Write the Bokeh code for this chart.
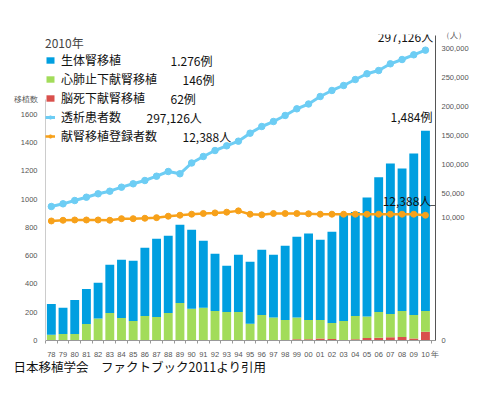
from bokeh.plotting import figure
from bokeh.models import (Range1d, LinearAxis, FixedTicker, Label, Legend, LegendItem,
                          ColumnDataSource, Title)
from bokeh.embed import file_html
from bokeh.resources import INLINE

# ---------------- data ----------------
years = list(range(1978, 2011))
year_labels = ["78", "79", "80", "81", "82", "83", "84", "85", "86", "87", "88", "89",
               "90", "91", "92", "93", "94", "95", "96", "97", "98", "99", "00", "01",
               "02", "03", "04", "05", "06", "07", "08", "09", "10"]
# kidney transplants (cases)
brain_death = [0, 0, 0, 0, 0, 0, 0, 0, 0, 0, 0, 0, 0, 0, 0, 0, 0, 0, 0, 0, 0,
               8, 9, 14, 11, 4, 9, 18, 19, 23, 25, 14, 62]
cardiac = [41, 46, 46, 117, 155, 195, 160, 138, 174, 167, 195, 266, 224, 231, 209, 202,
           202, 118, 181, 162, 145, 154, 136, 131, 113, 134, 165, 151, 183, 165, 184, 167, 146]
living = [218, 185, 241, 248, 253, 341, 411, 426, 482, 553, 547, 554, 560, 475, 405, 327,
          405, 440, 461, 445, 526, 573, 613, 568, 646, 757, 736, 844, 953, 1064, 1008, 1142, 1276]
# dialysis patients (persons)
dialysis = [27600, 32200, 37900, 43600, 49500, 54000, 60900, 66700, 72400, 79800, 87900,
            84000, 102600, 113800, 124100, 132200, 140200, 154000, 165500, 174100, 184500,
            196000, 204300, 217200, 227600, 236200, 246500, 256400, 262000, 273600, 281000,
            289100, 297126]
# registered for deceased-donor kidney transplant (persons)
registered = [11820, 11890, 11920, 11920, 11920, 11890, 12050, 12050, 12090, 12150, 12290,
              12390, 12490, 12560, 12620, 12690, 12820, 12490, 12430, 12560, 12560, 12560,
              12530, 12490, 12490, 12490, 12490, 12490, 12490, 12490, 12490, 12490, 12388]

left_ticks = [0, 200, 400, 600, 800, 1000, 1200, 1400, 1600]
right_ticks = [50000, 100000, 150000, 200000, 250000, 300000]
right_labels = ["50,000", "100,000", "150,000", "200,000", "250,000", "300,000"]

legend_names = ["生体腎移植", "心肺止下献腎移植", "脳死下献腎移植", "透析患者数", "献腎移植登録者数"]
legend_values = ["1.276例", "146例", "62例", "297,126人", "12,388人"]

C_BLUE = "#009fe0"
C_GREEN = "#a2dc5a"
C_RED = "#d9504c"
C_CYAN = "#6dcdf4"
C_ORANGE = "#f7a11a"
JP = "Noto Sans CJK JP"
NUM = "Liberation Sans"

# ---------------- figure ----------------
W, H = 471, 377
BL, BR, BT, BB = 45, 34, 34, 37

p = figure(width=W, height=H, output_backend="svg", toolbar_location=None,
           x_range=Range1d(1977.5, 2010.86), y_range=Range1d(0, 2166),
           min_border_left=BL, min_border_right=BR, min_border_top=BT, min_border_bottom=BB)
p.extra_y_ranges = {"dial": Range1d(-203432, 324112), "reg": Range1d(0, 30263)}
p.outline_line_color = None
p.xgrid.grid_line_color = None
p.ygrid.grid_line_color = None
p.background_fill_color = "white"
p.border_fill_color = "white"

src = ColumnDataSource(dict(year=years, brain=brain_death, cardiac=cardiac, living=living,
                            dial=dialysis, reg=registered))

bars = p.vbar_stack(["brain", "cardiac", "living"], x="year", width=0.76, source=src,
                    color=[C_RED, C_GREEN, C_BLUE], line_color=None)

l1 = p.line("year", "dial", source=src, y_range_name="dial", line_color=C_CYAN, line_width=3)
s1 = p.scatter("year", "dial", source=src, y_range_name="dial", size=6.5, color=C_CYAN)
l2 = p.line("year", "reg", source=src, y_range_name="reg", line_color=C_ORANGE, line_width=2.5)
s2 = p.scatter("year", "reg", source=src, y_range_name="reg", size=6, color=C_ORANGE)

# ---------------- axes ----------------
unit_x = 2010.85          # x-axis unit label sits at the right end of the axis
xa = p.xaxis[0]
xa.ticker = FixedTicker(ticks=years + [unit_x],
                        minor_ticks=[y - 0.5 for y in years] + [2010.5])
xa.major_label_overrides = {**{y: s for y, s in zip(years, year_labels)}, unit_x: "年"}
xa.major_tick_line_color = None
xa.major_tick_out = 0
xa.major_tick_in = 0
xa.minor_tick_in = 0
xa.minor_tick_out = 3
xa.minor_tick_line_color = "#999999"
xa.axis_line_color = "#999999"
xa.major_label_text_font = NUM
xa.major_label_text_font_size = "7.5px"
xa.major_label_text_color = "#555555"
xa.major_label_standoff = 6

unit_left = 1703          # "移植数" heading sits just above the 1600 tick
ya = p.yaxis[0]
ya.ticker = FixedTicker(ticks=left_ticks + [unit_left])
ya.major_label_overrides = {unit_left: "移植数"}
ya.bounds = (0, unit_left)
ya.axis_line_color = "#cccccc"
ya.major_tick_line_color = None
ya.major_tick_out = 0
ya.major_tick_in = 0
ya.minor_tick_line_color = None
ya.major_label_text_font = NUM
ya.major_label_text_font_size = "7.5px"
ya.major_label_text_color = "#555555"
ya.major_label_standoff = 8

# right axis is drawn with a broken scale: 0 and 10,000 sit below the break
zero_pos, ten_k_pos, unit_pos, break_pos = -202570, 8620, 322388, 29300
ra = LinearAxis(y_range_name="dial",
                ticker=FixedTicker(ticks=[zero_pos, ten_k_pos] + right_ticks + [unit_pos],
                                   minor_ticks=[break_pos]),
                bounds=(-203432, unit_pos))
ra.major_label_overrides = {zero_pos: "0", ten_k_pos: "10,000", unit_pos: "（人）",
                            **{t: s for t, s in zip(right_ticks, right_labels)}}
ra.axis_line_color = "#555555"
ra.major_tick_line_color = None
ra.major_tick_out = 0
ra.major_tick_in = 0
ra.minor_tick_line_color = "#555555"
ra.minor_tick_in = 5
ra.minor_tick_out = 0
ra.major_label_text_font = NUM
ra.major_label_text_font_size = "7.5px"
ra.major_label_text_color = "#555555"
ra.major_label_standoff = 6
p.add_layout(ra, "right")

# ---------------- legend ----------------
legend = Legend(items=[
    LegendItem(label=legend_names[0], renderers=[bars[2]]),
    LegendItem(label=legend_names[1], renderers=[bars[1]]),
    LegendItem(label=legend_names[2], renderers=[bars[0]]),
    LegendItem(label=legend_names[3], renderers=[l1, s1]),
    LegendItem(label=legend_names[4], renderers=[l2, s2]),
], location="top_left", margin=0, padding=12,
    title="2010年", title_text_font=JP, title_text_font_size="12px",
    title_text_font_style="normal", title_standoff=0,
    label_text_font=JP, label_text_font_size="12px", label_text_color="#111111",
    glyph_width=10, glyph_height=8, label_standoff=6, label_height=16, spacing=2,
    background_fill_alpha=0, border_line_color=None)
p.add_layout(legend)

# ---------------- texts ----------------
FL, FB = BL, H - BB   # canvas position of frame left / bottom


def sx(px):
    return px - FL


def sy(py):
    return FB - py


val_x = [170, 182, 170, 146, 182]
row_y = [60, 79, 98, 117, 136]
for t, x0, y0 in zip(legend_values, val_x, row_y):
    p.add_layout(Label(x=sx(x0), y=sy(y0), x_units="screen", y_units="screen", text=t,
                       text_font=JP, text_font_size="12px", text_baseline="middle",
                       text_color="#111111"))

p.add_layout(Label(x=2010.66, y=dialysis[-1], y_range_name="dial", text="297,126人",
                   text_align="right", text_baseline="bottom", y_offset=5,
                   text_font=JP, text_font_size="12px", text_color="#111111"))
p.add_layout(Label(x=2010.6, y=brain_death[-1] + cardiac[-1] + living[-1], text="1,484例",
                   text_align="right", text_baseline="bottom", y_offset=6,
                   text_font=JP, text_font_size="12px", text_color="#111111"))
p.add_layout(Label(x=2010.5, y=registered[-1], y_range_name="reg", text="12,388人",
                   text_align="right", text_baseline="bottom", y_offset=6,
                   text_font=JP, text_font_size="12px", text_color="#111111"))

footer = Title(text="日本移植学会　ファクトブック2011より引用", align="left", offset=-32,
               standoff=-13, text_font=JP, text_font_size="12.5px", text_font_style="normal",
               text_color="#111111")
p.add_layout(footer, "below")

open("out.html", "w").write(file_html(p, INLINE))
